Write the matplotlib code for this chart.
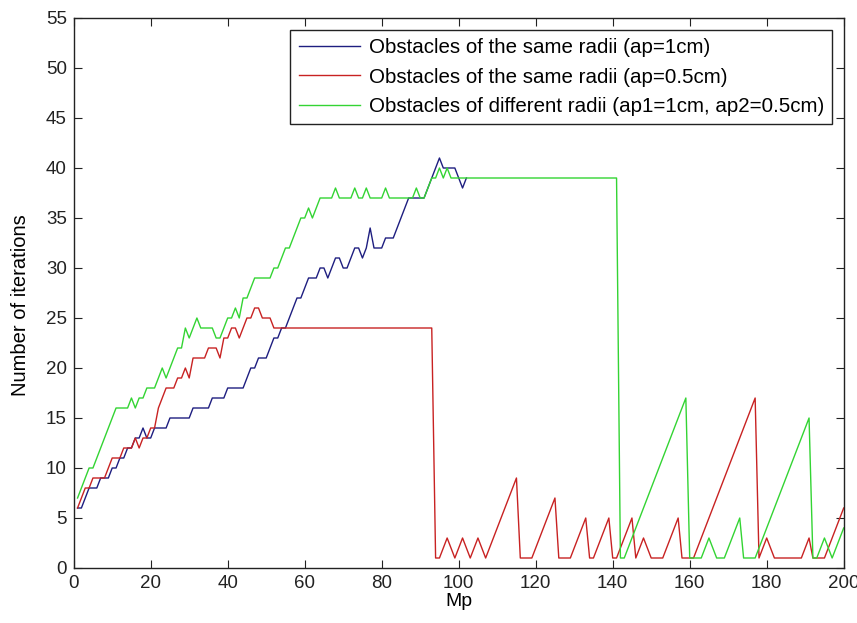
import matplotlib
matplotlib.use("Agg")
import matplotlib.pyplot as plt

plt.rcParams['font.family'] = ['Liberation Sans', 'DejaVu Sans']

# x positions (Mp)
mp_blue = list(range(1, 103))
mp_all = list(range(1, 201))

blue = [6,6,7,8,8,8,9,9,9,10, 10,11,11,12,12,13,13,14,13,13,
        14,14,14,14,15,15,15,15,15,15, 16,16,16,16,16,17,17,17,17,18,
        18,18,18,18,19,20,20,21,21,21, 22,23,23,24,24,25,26,27,27,28,
        29,29,29,30,30,29,30,31,31,30, 30,31,32,32,31,32,34,32,32,32,
        33,33,33,34,35,36,37,37,37,37, 37,38,39,40,41,40,40,40,40,39,
        38,39]

red = [6,7,8,8,9,9,9,9,10,11, 11,11,12,12,12,13,12,13,13,14,
       14,16,17,18,18,18,19,19,20,19, 21,21,21,21,22,22,22,21,23,23,
       24,24,23,24,25,25,26,26,25,25, 25,24,24,24,24,24,24,24,24,24,
       24,24,24,24,24,24,24,24,24,24, 24,24,24,24,24,24,24,24,24,24,
       24,24,24,24,24,24,24,24,24,24, 24,24,24,1,1,2,3,2,1,2,
       3,2,1,2,3,2,1,2,3,4, 5,6,7,8,9,1,1,1,1,2,
       3,4,5,6,7,1,1,1,1,2, 3,4,5,1,1,2,3,4,5,1,
       1,2,3,4,5,1,2,3,2,1, 1,1,1,2,3,4,5,1,1,1,
       1,2,3,4,5,6,7,8,9,10, 11,12,13,14,15,16,17,1,2,3,
       2,1,1,1,1,1,1,1,1,2, 3,1,1,1,1,2,3,4,5,6]

green = [7,8,9,10,10,11,12,13,14,15, 16,16,16,16,17,16,17,17,18,18,
         18,19,20,19,20,21,22,22,24,23, 24,25,24,24,24,24,23,23,24,25,
         25,26,25,27,27,28,29,29,29,29, 29,30,30,31,32,32,33,34,35,35,
         36,35,36,37,37,37,37,38,37,37, 37,37,38,37,37,38,37,37,37,37,
         38,37,37,37,37,37,37,37,38,37, 37,38,39,39,40,39,40,39,39,39,
         39,39,39,39,39,39,39,39,39,39, 39,39,39,39,39,39,39,39,39,39,
         39,39,39,39,39,39,39,39,39,39, 39,39,39,39,39,39,39,39,39,39,
         39,1,1,2,3,4,5,6,7,8, 9,10,11,12,13,14,15,16,17,1,
         1,1,1,2,3,2,1,1,1,2, 3,4,5,1,1,1,1,2,3,4,
         5,6,7,8,9,10,11,12,13,14, 15,1,1,2,3,2,1,2,3,4]

labels = ['Obstacles of the same radii (ap=1cm)',
          'Obstacles of the same radii (ap=0.5cm)',
          'Obstacles of different radii (ap1=1cm, ap2=0.5cm)']
colors = ['#1e1e80', '#c82222', '#33d433']
xticks = [0, 20, 40, 60, 80, 100, 120, 140, 160, 180, 200]
yticks = [0, 5, 10, 15, 20, 25, 30, 35, 40, 45, 50, 55]

fig = plt.figure(figsize=(8.57, 6.23), dpi=100)
ax = fig.add_axes([73.7/857, 1-568/623, 770/857, 550/623])

ax.plot(mp_blue, blue, color=colors[0], lw=1.0, label=labels[0])
ax.plot(mp_all, red, color=colors[1], lw=1.0, label=labels[1])
ax.plot(mp_all, green, color=colors[2], lw=1.0, label=labels[2])

ax.set_xlim(0, 200)
ax.set_ylim(0, 55)
ax.set_xticks(xticks)
ax.set_yticks(yticks)
ax.tick_params(direction='in', length=6, top=True, right=True, labelsize=13.5,
               width=0.8, colors='#222222', pad=5)
for s in ax.spines.values():
    s.set_linewidth(1.0)
    s.set_color('#222222')
ax.set_xlabel('Mp', fontsize=14, labelpad=1)
ax.set_ylabel('Number of iterations', fontsize=14.5)
ax.yaxis.set_label_coords(-0.057, 0.478)

leg = ax.legend(loc='upper right', bbox_to_anchor=(0.9848, 0.978), fontsize=14.8,
                handlelength=3.0, handletextpad=0.4, borderpad=0.4,
                labelspacing=0.5, fancybox=False, framealpha=1,
                edgecolor='#222222', borderaxespad=0)
leg.get_frame().set_linewidth(1.0)

fig.savefig('out.png', dpi=100)
